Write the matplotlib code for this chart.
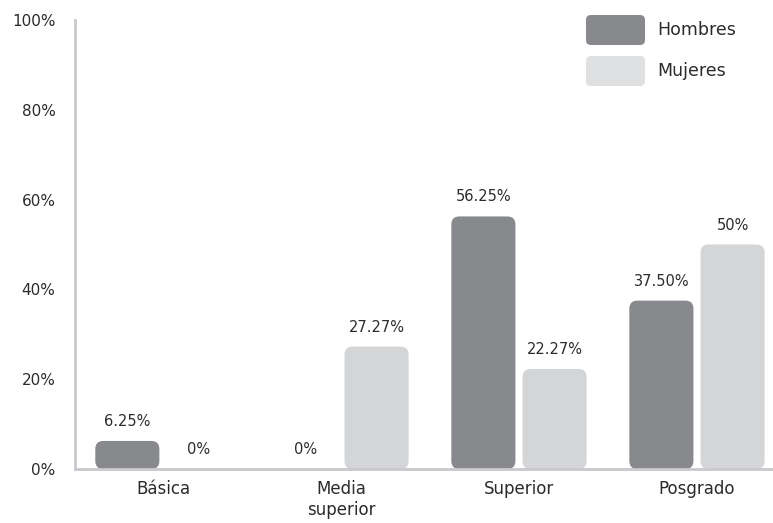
import matplotlib
matplotlib.use("Agg")
import matplotlib.pyplot as plt
from matplotlib.patches import FancyBboxPatch

categorias = ["Básica", "Media\nsuperior", "Superior", "Posgrado"]
hombres = [6.25, 0, 56.25, 37.50]
mujeres = [0, 27.27, 22.27, 50]
etiquetas_hombres = ["6.25%", "0%", "56.25%", "37.50%"]
etiquetas_mujeres = ["0%", "27.27%", "22.27%", "50%"]
yticks = [0, 20, 40, 60, 80, 100]

c_h = "#88898d"
c_m = "#d4d5d7"
c_txt = "#2b2b2b"
plt.rcParams["font.family"] = ["DejaVu Sans"]

fig = plt.figure(figsize=(7.73, 5.23), dpi=100)
ax = fig.add_axes([75/773, 1-469/523, 698/773, 449/523])
ax.set_xlim(-0.494, 3.427)
ax.set_ylim(0, 100)

w = 0.36
off = 0.2
# rounding corrected for the different x/y scales
xs = 698/3.921
ys = 449/100.0
r = 8/xs
asp = xs/ys

for i in range(len(categorias)):
    for val, lab, col, dx in [(hombres[i], etiquetas_hombres[i], c_h, -off),
                              (mujeres[i], etiquetas_mujeres[i], c_m, off)]:
        if val > 0:
            p = FancyBboxPatch((i+dx-w/2, 0), w, val,
                               boxstyle="round,pad=0,rounding_size=%f" % r,
                               mutation_aspect=asp, fc=col, ec="none", zorder=2)
            ax.add_patch(p)
        ax.annotate(lab, (i+dx, val), xytext=(0, 14), textcoords="offset points",
                    ha="center", va="center", fontsize=10.5, color=c_txt)

ax.set_xticks(range(len(categorias)))
ax.set_xticklabels(categorias, fontsize=12, color=c_txt, linespacing=1.2)
ax.set_yticks(yticks)
ax.set_yticklabels([f"{v}%" for v in yticks], fontsize=11, color=c_txt)
ax.tick_params(length=0)
ax.tick_params(axis="y", pad=14)
ax.tick_params(axis="x", pad=8)
for s in ["top", "right"]:
    ax.spines[s].set_visible(False)
for s in ["left", "bottom"]:
    ax.spines[s].set_color("#c9c9cd")
    ax.spines[s].set_linewidth(2)
ax.spines["left"].set_zorder(1)

# leyenda
for y0, col, txt in [(4.78, c_h, "Hombres"), (4.37, "#dfe0e2", "Mujeres")]:
    fig.patches.append(FancyBboxPatch((5.86, y0), 0.59, 0.30,
                                      boxstyle="round,pad=0,rounding_size=0.05",
                                      transform=fig.dpi_scale_trans, fc=col, ec="none"))
    fig.text(6.57, y0+0.15, txt, transform=fig.dpi_scale_trans, va="center",
             ha="left", fontsize=12.5, color=c_txt)

fig.savefig("out.png", dpi=100)
